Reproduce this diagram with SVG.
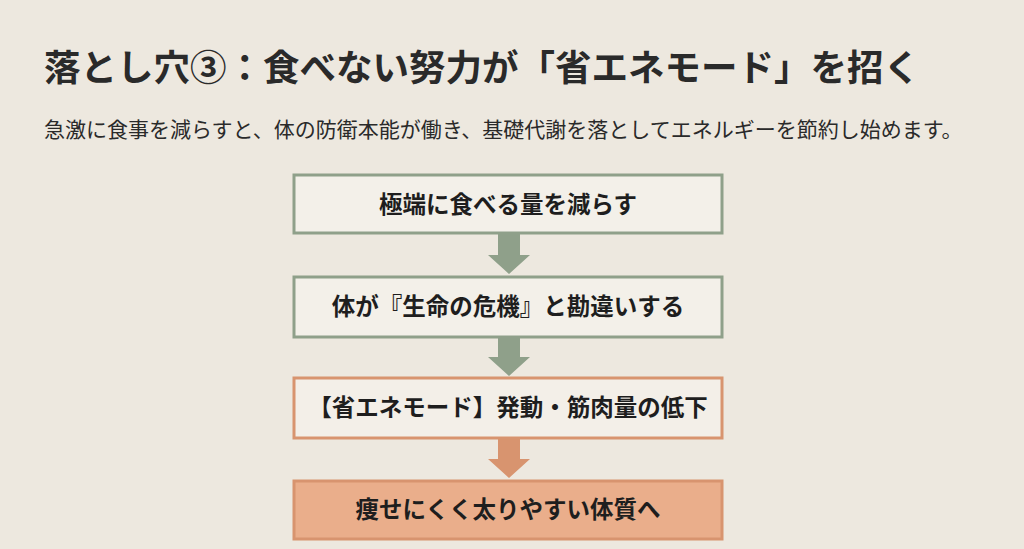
<svg xmlns="http://www.w3.org/2000/svg" width="1024" height="549" viewBox="0 0 1024 549">
<style>
.t{font-family:"Noto Sans CJK JP","Noto Sans",sans-serif;fill:#2a2a2a}
.n{font-family:"Noto Sans CJK JP",sans-serif;font-weight:700;font-size:23.5px;fill:#1e1e1e;text-anchor:middle}
.g{fill:#f3f0e9;stroke:#8fa08a;stroke-width:3}
.o{fill:#f3efe8;stroke:#d8946f;stroke-width:3}
.of{fill:#eaae8b;stroke:#d8946f;stroke-width:3}
</style>
<rect width="1024" height="549" fill="#ede8df"/>
<text class="t" x="44" y="81" font-size="36.5" font-weight="700" fill="#333">落とし穴③：食べない努力が「省エネモード」を招く</text>
<text class="t" x="44" y="137" font-size="21">急激に食事を減らすと、体の防衛本能が働き、基礎代謝を落としてエネルギーを節約し始めます。</text>
<g id="connectors">
<polygon points="498,233 520,233 520,255 530,255 509,274 488,255 498,255" fill="#8fa08a"/>
<polygon points="498,337 520,337 520,357 530,357 509,376 488,357 498,357" fill="#8fa08a"/>
<polygon points="498,438 520,438 520,459 530,459 509,478 488,459 498,459" fill="#d8946f"/>
</g>
<g id="n1"><rect class="g" x="294" y="175" width="428" height="58"/><text class="n" x="508" y="213">極端に食べる量を減らす</text></g>
<g id="n2"><rect class="g" x="294" y="277" width="428" height="60"/><text class="n" x="508" y="315">体が『生命の危機』と勘違いする</text></g>
<g id="n3"><rect class="o" x="294" y="378" width="428" height="60"/><text class="n" x="508" y="416">【省エネモード】発動・筋肉量の低下</text></g>
<g id="n4"><rect class="of" x="294" y="481" width="428" height="58"/><text class="n" x="508" y="518">痩せにくく太りやすい体質へ</text></g>
</svg>
